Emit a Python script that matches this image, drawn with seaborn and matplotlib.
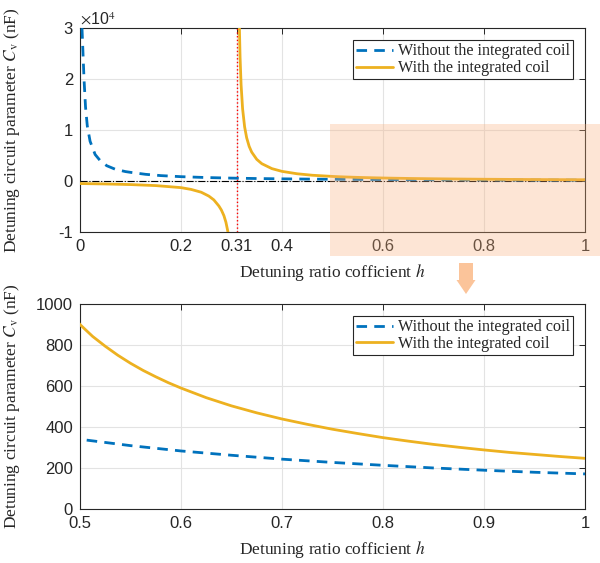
import matplotlib
matplotlib.use("Agg")
import matplotlib.pyplot as plt
import matplotlib.patches as mpatches
import seaborn as sns
import pandas as pd

# ---------------- data ----------------
h_without = [0.004, 0.006, 0.008, 0.011, 0.0145, 0.02, 0.03, 0.04, 0.053, 0.07,
             0.09, 0.1, 0.13, 0.16, 0.2, 0.25, 0.3, 0.35, 0.4, 0.45,
             0.5, 0.55, 0.6, 0.65, 0.7, 0.75, 0.8, 0.85, 0.9, 0.95, 1.0]
c_without = [30000, 25000, 20000, 14500, 10800, 7800, 5200, 4000, 3000, 2300,
             1850, 1700, 1310, 1060, 850, 680, 567, 486, 425, 378,
             340, 309, 283, 262, 243, 227, 213, 200, 189, 179, 171]

h_with_left = [0.0, 0.05, 0.1, 0.15, 0.2, 0.22, 0.24, 0.255, 0.265,
               0.275, 0.28, 0.285, 0.289, 0.293]
c_with_left = [-500, -580, -700, -900, -1300, -1650, -2200, -2950, -3700,
               -4900, -5700, -6800, -8100, -10000]

h_with_right = [0.3155, 0.317, 0.319, 0.322, 0.326, 0.33, 0.335, 0.34, 0.35,
                0.36, 0.38, 0.4, 0.43, 0.46, 0.5, 0.5125, 0.525, 0.5375, 0.55,
                0.5625, 0.575, 0.5875, 0.6, 0.625, 0.65, 0.675, 0.7, 0.725,
                0.75, 0.775, 0.8, 0.825, 0.85, 0.875, 0.9, 0.925, 0.95, 0.975, 1.0]
c_with_right = [30900, 24300, 18900, 14170, 10630, 8500, 6800, 5670, 4250,
                3400, 2430, 1890, 1420, 1130, 900, 842, 794, 750, 711,
                676, 645, 616, 590, 543, 503, 469, 439, 413,
                389, 368, 348, 331, 315, 301, 288, 276, 266, 256, 247]

pole_h = 0.31
top_xticks = [0, 0.2, 0.31, 0.4, 0.6, 0.8, 1]
top_xticklabels = ["0", "0.2", "0.31", "0.4", "0.6", "0.8", "1"]
top_yticks = [-10000, 0, 10000, 20000, 30000]
top_yticklabels = ["-1", "0", "1", "2", "3"]
bot_xticks = [0.5, 0.6, 0.7, 0.8, 0.9, 1.0]
bot_xticklabels = ["0.5", "0.6", "0.7", "0.8", "0.9", "1"]
bot_yticks = [0, 200, 400, 600, 800, 1000]

label_without = "Without the integrated coil"
label_with = "With the integrated coil"
xlabel = "Detuning ratio cofficient $h$"
ylabel = "Detuning circuit parameter $C_\\mathrm{v}$ (nF)"

# ---------------- style ----------------
sns.set_style("white")
plt.rcParams["font.family"] = ["Liberation Sans", "DejaVu Sans"]
plt.rcParams["mathtext.fontset"] = "stix"

BLUE = "#0072BD"
ORANGE = "#EDB120"
AXC = "#262626"
SERIF = ["Liberation Serif", "DejaVu Serif"]

df_wo = pd.DataFrame({"h": h_without, "C": c_without})
df_wl = pd.DataFrame({"h": h_with_left, "C": c_with_left})
df_wr = pd.DataFrame({"h": h_with_right, "C": c_with_right})

fig = plt.figure(figsize=(6, 5.63), dpi=100)
ax1 = fig.add_axes([0.1333, 0.588, 0.8417, 0.362])
ax2 = fig.add_axes([0.1333, 0.096, 0.8417, 0.364])


def draw(ax):
    sns.lineplot(data=df_wo, x="h", y="C", ax=ax, color=BLUE, lw=2.0,
                 linestyle=(0, (3.8, 2.6)), estimator=None, sort=False,
                 label=label_without, zorder=3)
    sns.lineplot(data=df_wl, x="h", y="C", ax=ax, color=ORANGE, lw=2.0,
                 estimator=None, sort=False, zorder=3)
    sns.lineplot(data=df_wr, x="h", y="C", ax=ax, color=ORANGE, lw=2.0,
                 estimator=None, sort=False, label=label_with, zorder=3)


def style(ax):
    ax.grid(True, color="#e3e3e3", lw=0.8)
    ax.set_axisbelow(True)
    for s in ax.spines.values():
        s.set_color(AXC)
        s.set_linewidth(0.8)
    ax.tick_params(direction="in", top=True, right=True, length=4,
                   width=0.7, color=AXC, labelcolor=AXC, labelsize=12, pad=5)
    ax.set_xlabel(xlabel, family=SERIF, fontsize=12.5, color=AXC, labelpad=6)
    ax.set_ylabel(ylabel, family=SERIF, fontsize=12.5, color=AXC)
    leg = ax.legend(loc="upper right", frameon=True, fancybox=False,
                    framealpha=1, edgecolor=AXC, prop={"family": SERIF, "size": 11.6},
                    handlelength=2.3, handletextpad=0.3, borderpad=0.2,
                    labelspacing=0.05, borderaxespad=0.75)
    leg.get_frame().set_linewidth(0.8)


# top plot
draw(ax1)
ax1.axvline(pole_h, color="red", linestyle=":", lw=1.0, zorder=2)
ax1.axhline(0, color="black", linestyle="-.", lw=0.8, zorder=2)
ax1.set_xlim(0, 1)
ax1.set_ylim(-10000, 30000)
ax1.set_xticks(top_xticks)
ax1.set_xticklabels(top_xticklabels)
ax1.set_yticks(top_yticks)
ax1.set_yticklabels(top_yticklabels)
style(ax1)
ax1.text(0.0, 1.005, r"$\times$10$^4$", transform=ax1.transAxes, ha="left",
         va="bottom", fontsize=11.5, color=AXC, family=["Liberation Sans"])

# bottom plot
draw(ax2)
ax2.set_xlim(0.5, 1)
ax2.set_ylim(0, 1000)
ax2.set_xticks(bot_xticks)
ax2.set_xticklabels(bot_xticklabels)
ax2.set_yticks(bot_yticks)
style(ax2)
ax1.yaxis.set_label_coords(-0.115, 0.5)
ax2.yaxis.set_label_coords(-0.115, 0.5)

# highlight + arrow (figure coordinates)
W, H = 600.0, 563.0
rect = mpatches.Rectangle((330 / W, 1 - 256 / H), 1 - 330 / W, (256 - 124) / H,
                          transform=fig.transFigure, facecolor="#F9B07D",
                          alpha=0.32, edgecolor="none", zorder=10)
fig.patches.append(rect)
arrow_pts = [(459, 263), (473, 263), (473, 280), (475.5, 280), (466, 294),
             (456.5, 280), (459, 280)]
arrow = mpatches.Polygon([(x / W, 1 - y / H) for x, y in arrow_pts], closed=True,
                         transform=fig.transFigure, facecolor="#FBC49A",
                         edgecolor="none", zorder=10)
fig.patches.append(arrow)

fig.savefig("out.png", dpi=100)
